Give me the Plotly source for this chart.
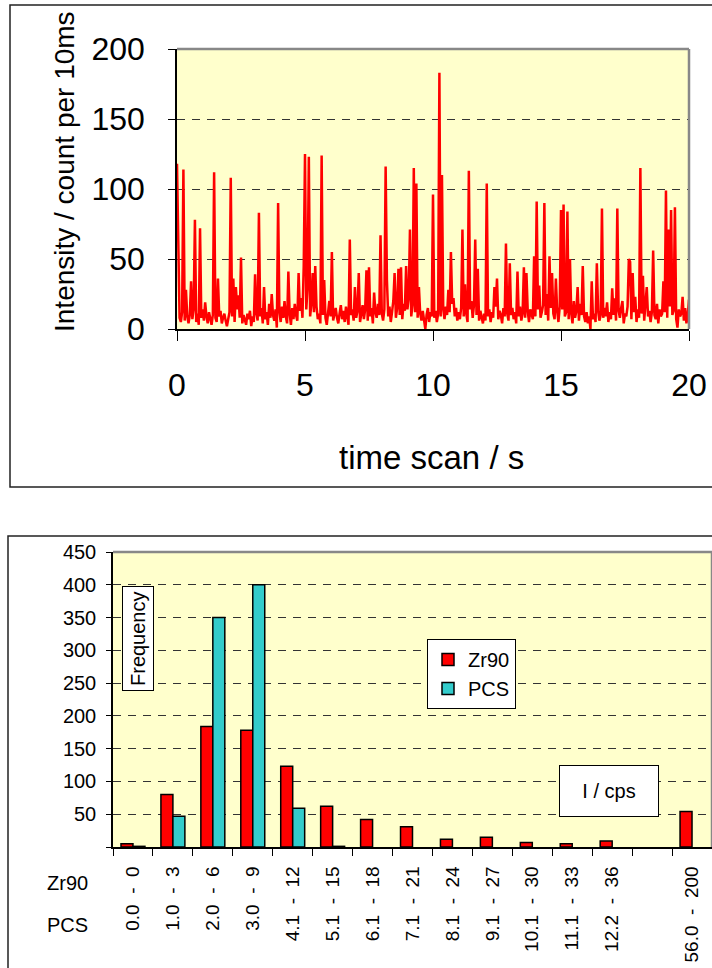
import plotly.graph_objects as go

# ---------------- data: top chart (time scan, 0.05 s steps) -------------
time_step = 0.05
intensity_rows = [
    [118, 42, 8, 5, 12, 114, 6, 28, 9, 4, 10, 34, 7, 14, 78, 5, 11, 3, 72, 8],
    [14, 6, 19, 9, 4, 12, 7, 3, 10, 112, 8, 5, 36, 9, 13, 4, 8, 11, 6, 2],
    [7, 12, 108, 9, 36, 5, 30, 14, 24, 8, 51, 4, 10, 6, 3, 11, 7, 13, 2, 9],
    [5, 39, 11, 6, 83, 9, 15, 4, 30, 7, 12, 3, 18, 8, 25, 10, 6, 14, 1, 90],
    [12, 5, 16, 8, 20, 9, 4, 41, 11, 3, 15, 7, 18, 10, 6, 40, 13, 22, 8, 45],
    [125, 14, 30, 123, 9, 18, 40, 12, 45, 16, 7, 11, 4, 124, 10, 35, 8, 3, 13, 20],
    [9, 55, 6, 12, 15, 8, 4, 11, 17, 7, 13, 5, 16, 9, 3, 64, 10, 14, 6, 30],
    [8, 13, 40, 5, 11, 17, 7, 14, 42, 6, 44, 9, 15, 4, 26, 12, 8, 18, 10, 67],
    [11, 6, 14, 116, 35, 9, 16, 5, 12, 20, 40, 8, 15, 43, 10, 44, 7, 18, 13, 45],
    [14, 22, 71, 9, 17, 115, 12, 104, 8, 30, 11, 6, 13, 7, 0, 10, 15, 5, 12, 9],
    [96, 8, 13, 5, 11, 183, 9, 110, 14, 7, 16, 10, 28, 12, 55, 18, 22, 9, 15, 6],
    [12, 7, 15, 71, 9, 32, 11, 5, 113, 14, 20, 8, 17, 64, 10, 43, 6, 13, 9, 4],
    [11, 6, 104, 9, 14, 5, 12, 8, 30, 16, 36, 7, 13, 10, 4, 15, 9, 61, 11, 6],
    [47, 10, 15, 7, 12, 4, 41, 9, 16, 6, 11, 44, 8, 40, 13, 5, 14, 10, 7, 52],
    [9, 91, 14, 31, 8, 12, 17, 90, 10, 25, 6, 52, 15, 40, 11, 7, 36, 13, 5, 16],
    [85, 14, 89, 9, 12, 84, 7, 50, 11, 4, 20, 8, 13, 30, 6, 18, 10, 45, 9, 5],
    [12, 4, 9, 0, 34, 7, 11, 5, 47, 13, 6, 10, 86, 8, 15, 9, 19, 5, 12, 7],
    [29, 10, 22, 6, 86, 13, 8, 15, 20, 4, 11, 9, 16, 50, 48, 7, 40, 12, 23, 5],
    [14, 8, 115, 11, 38, 6, 17, 30, 9, 13, 5, 12, 56, 10, 7, 18, 4, 14, 9, 11],
    [34, 12, 99, 8, 71, 16, 85, 10, 13, 87, 7, 1, 14, 9, 11, 23, 6, 15, 4, 10],
]
intensity_last = 21
top_xticks = [0, 5, 10, 15, 20]
top_yticks = [0, 50, 100, 150, 200]

# ---------------- data: bottom chart (frequency histogram) ----------------
zr90_upper = ["0", "3", "6", "9", "12", "15", "18", "21", "24", "27", "30", "33", "36", "", "200"]
pcs_lower = ["0.0", "1.0", "2.0", "3.0", "4.1", "5.1", "6.1", "7.1", "8.1", "9.1", "10.1", "11.1", "12.2", "", "56.0"]
zr90_freq = [5, 80, 184, 178, 123, 62, 42, 31, 12, 15, 7, 5, 9, 0, 54]
pcs_freq = [1, 47, 350, 400, 59, 1, 0, 0, 0, 0, 0, 0, 0, 0, 0]
bottom_yticks = [0, 50, 100, 150, 200, 250, 300, 350, 400, 450]

# ---------------- build ----------------
intensity = [v for row in intensity_rows for v in row] + [intensity_last]
times = [round(i * time_step, 2) for i in range(len(intensity))]

NB = "\u00a0"
categories = []
for p, z in zip(pcs_lower, zr90_upper):
    if p == "" and z == "":
        categories.append(NB)
    else:
        categories.append(f"{p}{NB*2}-{NB*2}{z}")

def nz(vals):
    return [v if v else None for v in vals]

W, H = 712, 968
def px(x):
    return x / W
def py(y):
    return 1 - y / H

FONT = "Liberation Sans, Arial, sans-serif"

fig = go.Figure()
fig.add_trace(go.Scatter(x=times, y=intensity, mode="lines",
                         line=dict(color="#FF0000", width=2.5),
                         xaxis="x", yaxis="y", showlegend=False))
fig.add_trace(go.Bar(x=categories, y=nz(zr90_freq), name="Zr90",
                     marker=dict(color="#FF0000", line=dict(color="black", width=1.5)),
                     xaxis="x2", yaxis="y2"))
fig.add_trace(go.Bar(x=categories, y=nz(pcs_freq), name="PCS",
                     marker=dict(color="#33CCCC", line=dict(color="black", width=1.5)),
                     xaxis="x2", yaxis="y2"))

grid_common = dict(gridcolor="#333333", gridwidth=1, griddash="8px,7px")

fig.update_layout(
    width=W, height=H, autosize=False,
    margin=dict(l=0, r=0, t=0, b=0, pad=0, autoexpand=False),
    paper_bgcolor="white",
    plot_bgcolor="#FFFFCC",
    font=dict(family=FONT, color="black"),
    barmode="group", bargap=0.4, bargroupgap=0,
    xaxis=dict(domain=[px(177), px(689)], anchor="y", range=[0, 20], automargin=False,
               tickvals=top_xticks, showgrid=False, zeroline=False,
               showline=True, linecolor="black", linewidth=1.5,
               ticks="outside", ticklen=10, tickcolor="black", tickwidth=1,
               tickfont=dict(size=32), ticklabelstandoff=17),
    yaxis=dict(domain=[py(329), py(49)], anchor="x", range=[0, 200], automargin=False,
               tickvals=top_yticks, showgrid=True, zeroline=False,
               showline=True, linecolor="black", linewidth=1.5,
               ticks="outside", ticklen=7, tickcolor="black", tickwidth=1,
               tickfont=dict(size=32), ticklabelstandoff=17, **grid_common),
    xaxis2=dict(domain=[px(113), 1.0], anchor="y2", type="category", automargin=False,
                range=[-0.5, len(categories) - 0.5],
                tickson="boundaries", showgrid=False, zeroline=False,
                showline=True, linecolor="black", linewidth=1.5,
                ticks="outside", ticklen=7, tickcolor="black", tickwidth=1,
                tickangle=-90, tickfont=dict(size=19), ticklabelstandoff=10),
    yaxis2=dict(domain=[py(847), py(552)], anchor="x2", range=[0, 450], automargin=False,
                tickvals=bottom_yticks,
                ticktext=["" if v == 0 else str(v) for v in bottom_yticks],
                showgrid=True, zeroline=False,
                showline=True, linecolor="black", linewidth=1.5,
                ticks="outside", ticklen=5, tickcolor="black", tickwidth=1,
                tickfont=dict(size=20), ticklabelstandoff=6, **grid_common),
    legend=dict(x=px(427), y=py(639), xanchor="left", yanchor="top",
                bgcolor="white", bordercolor="black", borderwidth=1,
                font=dict(size=20), tracegroupgap=0, itemwidth=30),
)

shapes = [
    # outer frames
    dict(type="rect", xref="paper", yref="paper", x0=px(10), x1=1.05, y0=py(487), y1=py(5),
         line=dict(color="#222222", width=1.5), layer="below"),
    dict(type="rect", xref="paper", yref="paper", x0=px(8), x1=1.05, y0=-0.05, y1=py(536),
         line=dict(color="#222222", width=1.5), layer="below"),
    # grey plot-area borders (top and right)
    dict(type="line", xref="x domain", yref="y domain", x0=0, x1=1, y0=1, y1=1,
         line=dict(color="#888888", width=2.5)),
    dict(type="line", xref="x domain", yref="y domain", x0=1, x1=1, y0=0, y1=1,
         line=dict(color="#888888", width=2.5)),
    dict(type="line", xref="x2 domain", yref="y2 domain", x0=0, x1=1, y0=1, y1=1,
         line=dict(color="#888888", width=2.5)),
    dict(type="line", xref="x2 domain", yref="y2 domain", x0=1, x1=1, y0=0, y1=1,
         line=dict(color="#888888", width=2.5)),
]
fig.update_layout(shapes=shapes)

annotations = [
    dict(text="Intensity / count per 10ms", x=px(65), y=py(172), xref="paper", yref="paper",
         textangle=-90, showarrow=False, font=dict(size=28), xanchor="center", yanchor="middle"),
    dict(text="time scan / s", x=px(431), y=py(458), xref="paper", yref="paper",
         showarrow=False, font=dict(size=33), xanchor="center", yanchor="middle"),
    dict(text="Frequency", x=px(137.5), y=py(638.5), xref="paper", yref="paper",
         textangle=-90, showarrow=False, font=dict(size=20), xanchor="center", yanchor="middle",
         bgcolor="white", bordercolor="black", borderwidth=1, borderpad=4),
    dict(text="I / cps", x=px(608.7), y=py(790.5), xref="paper", yref="paper",
         showarrow=False, font=dict(size=20), xanchor="center", yanchor="middle",
         width=92, height=44, bgcolor="white", bordercolor="black", borderwidth=1, borderpad=3),
    dict(text="Zr90", x=px(45), y=py(883), xref="paper", yref="paper",
         showarrow=False, font=dict(size=20), xanchor="left", yanchor="middle"),
    dict(text="PCS", x=px(45), y=py(925), xref="paper", yref="paper",
         showarrow=False, font=dict(size=20), xanchor="left", yanchor="middle"),
]
fig.update_layout(annotations=annotations)

fig.write_html("out.html", post_script="document.body.style.margin='0';")
